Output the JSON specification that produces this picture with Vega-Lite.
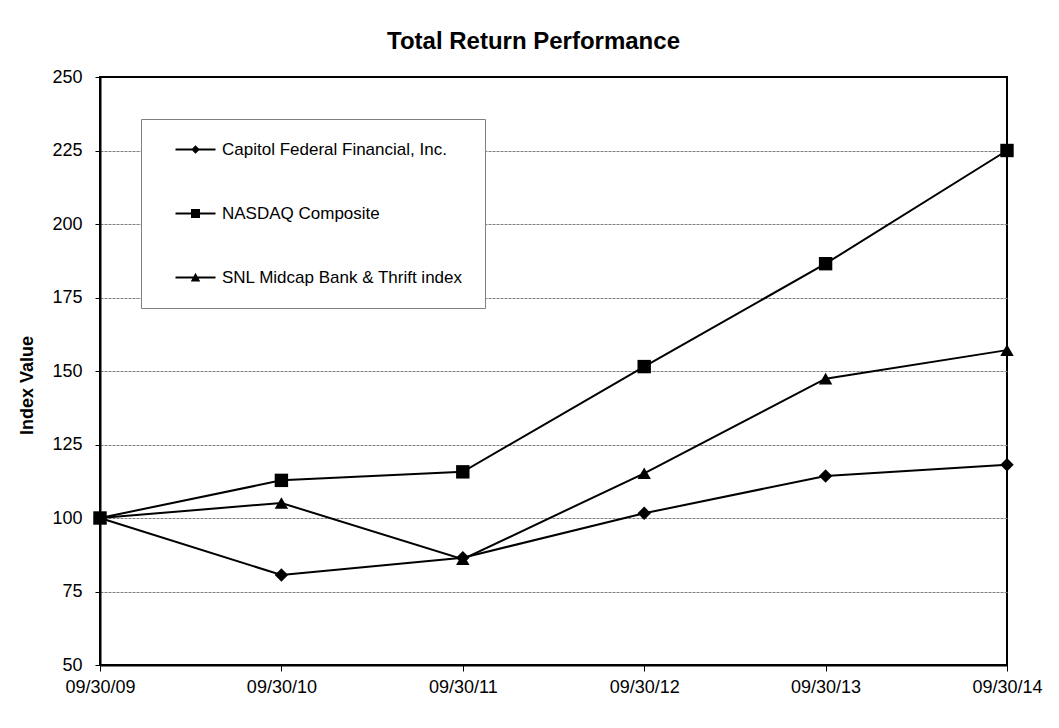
{
  "$schema": "https://vega.github.io/schema/vega-lite/v6.json",
  "width": 907,
  "height": 588,
  "autosize": {"type": "none"},
  "padding": {"left": 100, "top": 77, "right": 52, "bottom": 63},
  "background": "white",
  "config": {
    "font": "Liberation Sans",
    "view": {"stroke": "black", "strokeWidth": 2},
    "axis": {"labelFont": "Liberation Sans", "titleFont": "Liberation Sans", "labelColor": "black", "titleColor": "black", "domainColor": "black", "domainWidth": 2, "tickColor": "black", "tickWidth": 1}
  },
  "title": {
    "text": "Total Return Performance",
    "fontSize": 24,
    "fontWeight": "bold",
    "font": "Liberation Sans",
    "color": "black",
    "anchor": "middle",
    "dx": -20,
    "dy": 32,
    "baseline": "alphabetic",
    "offset": 27
  },
  "data": {
    "values": [
      {"date": "09/30/09", "series": "Capitol Federal Financial, Inc.", "value": 100},
      {"date": "09/30/10", "series": "Capitol Federal Financial, Inc.", "value": 80.6},
      {"date": "09/30/11", "series": "Capitol Federal Financial, Inc.", "value": 86.5},
      {"date": "09/30/12", "series": "Capitol Federal Financial, Inc.", "value": 101.6},
      {"date": "09/30/13", "series": "Capitol Federal Financial, Inc.", "value": 114.3},
      {"date": "09/30/14", "series": "Capitol Federal Financial, Inc.", "value": 118.1},
      {"date": "09/30/09", "series": "SNL Midcap Bank & Thrift index", "value": 100},
      {"date": "09/30/10", "series": "SNL Midcap Bank & Thrift index", "value": 105.1},
      {"date": "09/30/11", "series": "SNL Midcap Bank & Thrift index", "value": 86},
      {"date": "09/30/12", "series": "SNL Midcap Bank & Thrift index", "value": 115.2},
      {"date": "09/30/13", "series": "SNL Midcap Bank & Thrift index", "value": 147.4},
      {"date": "09/30/14", "series": "SNL Midcap Bank & Thrift index", "value": 157.1},
      {"date": "09/30/09", "series": "NASDAQ Composite", "value": 100},
      {"date": "09/30/10", "series": "NASDAQ Composite", "value": 112.8},
      {"date": "09/30/11", "series": "NASDAQ Composite", "value": 115.7},
      {"date": "09/30/12", "series": "NASDAQ Composite", "value": 151.5},
      {"date": "09/30/13", "series": "NASDAQ Composite", "value": 186.5},
      {"date": "09/30/14", "series": "NASDAQ Composite", "value": 225}
    ]
  },
  "encoding": {
    "x": {
      "field": "date",
      "type": "ordinal",
      "scale": {"type": "point", "padding": 0, "domain": ["09/30/09", "09/30/10", "09/30/11", "09/30/12", "09/30/13", "09/30/14"]},
      "axis": {"title": null, "labelAngle": 0, "labelFontSize": 18, "tickSize": 6, "labelPadding": 7, "grid": false}
    },
    "y": {
      "field": "value",
      "type": "quantitative",
      "scale": {"domain": [50, 250], "nice": false, "zero": false},
      "axis": {
        "title": "Index Value",
        "titleFontSize": 18,
        "titleFontWeight": "bold",
        "titleX": -73,
        "titleY": 308,
        "titleAlign": "center",
        "titleBaseline": "middle",
        "titleAngle": -90,
        "values": [50, 75, 100, 125, 150, 175, 200, 225, 250],
        "labelFontSize": 18,
        "tickSize": 5,
        "labelPadding": 13,
        "grid": true,
        "gridColor": "#808080",
        "gridDash": [3, 1],
        "gridWidth": 1,
        "gridOpacity": {"condition": {"test": "datum.value == 50 || datum.value == 250", "value": 0}, "value": 1}
      }
    }
  },
  "layer": [
    {
      "mark": {"type": "line", "color": "black", "strokeWidth": 2},
      "encoding": {"detail": {"field": "series"}}
    },
    {
      "mark": {"type": "point", "filled": true, "color": "black", "opacity": 1, "size": 180},
      "encoding": {
        "shape": {
          "field": "series",
          "type": "nominal",
          "scale": {"domain": ["Capitol Federal Financial, Inc.", "NASDAQ Composite", "SNL Midcap Bank & Thrift index"], "range": ["diamond", "square", "triangle-up"]},
          "legend": null
        }
      }
    },
    {
      "mark": {"type": "point", "filled": true, "color": "black", "opacity": 0, "size": 100},
      "encoding": {
        "shape": {
          "field": "series",
          "type": "nominal",
          "scale": {
            "domain": ["Capitol Federal Financial, Inc.", "NASDAQ Composite", "SNL Midcap Bank & Thrift index"],
            "range": [
              "M-4,-0.2H4V0.2H-4Z M0,-0.85L0.85,0L0,0.85L-0.85,0Z",
              "M-4,-0.2H4V0.2H-4Z M-0.9,-0.9H0.9V0.9H-0.9Z",
              "M-4,-0.2H4V0.2H-4Z M0,-0.95L0.95,0.8H-0.95Z"
            ]
          },
          "legend": {
            "title": null,
            "orient": "none",
            "legendX": 41,
            "legendY": 42,
            "direction": "vertical",
            "strokeColor": "#808080",
            "fillColor": "white",
            "padding": 22,
            "rowPadding": 46,
            "symbolSize": 100,
            "symbolOffset": 24,
            "labelOffset": 18,
            "labelFontSize": 17,
            "labelFont": "Liberation Sans",
            "labelColor": "black",
            "labelLimit": 400,
            "symbolOpacity": 1,
            "symbolFillColor": "black",
            "symbolStrokeColor": "black",
            "symbolStrokeWidth": 0
          }
        }
      }
    }
  ],
  "resolve": {"scale": {"shape": "independent"}, "legend": {"shape": "independent"}}
}
